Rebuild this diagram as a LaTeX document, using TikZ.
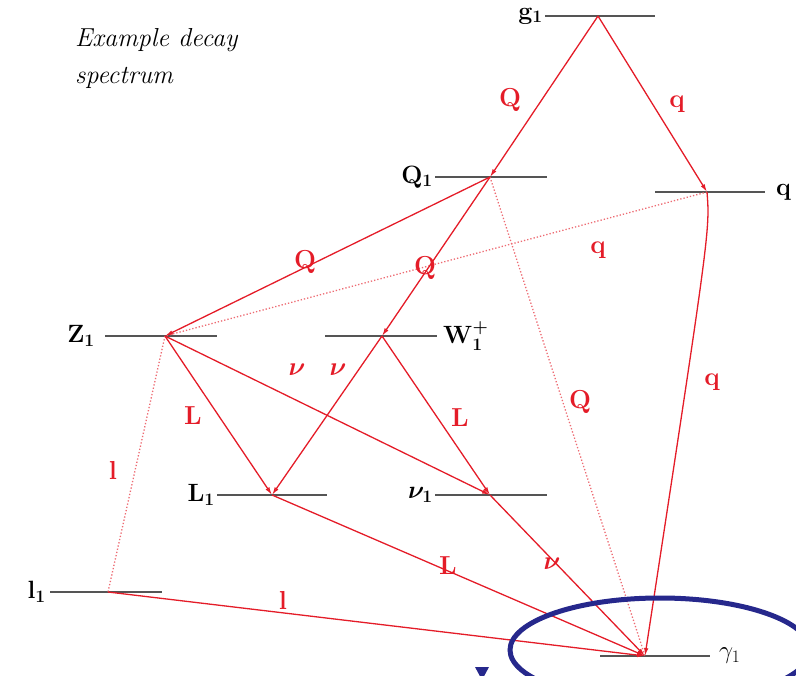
\RequirePackage{fix-cm}
\documentclass[tikz,border=0pt]{standalone}
\usepackage{amsmath}
\usepackage{bm}
\usetikzlibrary{positioning}
\usetikzlibrary{arrows.meta}
\definecolor{decayred}{RGB}{228,28,40}
\definecolor{levelgray}{RGB}{85,85,85}
\definecolor{ringblue}{RGB}{38,40,140}

\begin{document}
\begin{tikzpicture}[
    x=1pt, y=-1pt,
    level/.style={draw=levelgray, line width=2.6pt},
    decay/.style={draw=decayred, line width=1.3pt, -{Latex[open, length=8pt, width=4.5pt]}},
    virtual/.style={draw=decayred!65, line width=1.3pt, dotted},
    lvl/.style={font=\fontsize{25}{27}\selectfont, text=black, inner sep=1pt},
    lbl/.style={font=\fontsize{26}{28}\selectfont\bfseries, text=decayred, inner sep=1pt},
    >=latex
]
    \clip (0,0) rectangle (796,676);

    % vertices of the levels
    \coordinate (g1) at (598,16);
    \coordinate (Q1) at (490,177);
    \coordinate (q)  at (707,192);
    \coordinate (Z1) at (165,336);
    \coordinate (W1) at (382,336);
    \coordinate (L1) at (272,495);
    \coordinate (n1) at (490,495);
    \coordinate (l1) at (108,592);
    \coordinate (c1) at (645,656);

    % levels
    \draw[level] ([xshift=-53pt]g1) -- ([xshift=57pt]g1);
    \draw[level] ([xshift=-55pt]Q1) -- ([xshift=57pt]Q1);
    \draw[level] ([xshift=-52pt]q)  -- ([xshift=58pt]q);
    \draw[level] ([xshift=-60pt]Z1) -- ([xshift=52pt]Z1);
    \draw[level] ([xshift=-57pt]W1) -- ([xshift=55pt]W1);
    \draw[level] ([xshift=-55pt]L1) -- ([xshift=55pt]L1);
    \draw[level] ([xshift=-55pt]n1) -- ([xshift=57pt]n1);
    \draw[level] ([xshift=-58pt]l1) -- ([xshift=54pt]l1);
    \draw[level] ([xshift=-45pt]c1) -- ([xshift=65pt]c1);

    \node[lvl, left=1pt of {[xshift=-53pt]g1}] (g1lab) {$\mathbf{g}_{\mathbf{1}}$};
    \node[lvl, left=1pt of {[xshift=-55pt]Q1}] (Q1lab) {$\mathbf{Q}_{\mathbf{1}}$};
    \node[lvl, right=10pt of {[xshift=58pt]q}] (qlab) {$\mathbf{q}$};
    \node[lvl, left=9pt of {[xshift=-60pt]Z1}] (Z1lab) {$\mathbf{Z}_{\mathbf{1}}$};
    \node[lvl, right=5pt of {[xshift=55pt]W1}] (W1lab) {$\mathbf{W}_{\mathbf{1}}^{\boldsymbol{+}}$};
    \node[lvl, left=1pt of {[xshift=-55pt]L1}] (L1lab) {$\mathbf{L}_{\mathbf{1}}$};
    \node[lvl, left=1pt of {[xshift=-55pt]n1}] (n1lab) {$\bm{\nu}_{\mathbf{1}}$};
    \node[lvl, left=3pt of {[xshift=-58pt]l1}] (l1lab) {$\mathbf{l}_{\mathbf{1}}$};
    \node[lvl, right=8pt of {[xshift=65pt]c1}] (c1lab) {$\gamma_1$};

    % virtual (dotted) decays
    \draw[virtual] (q) -- (Z1);
    \draw[virtual] (Q1) -- (c1);
    \draw[virtual] (Z1) -- (l1);

    % decays
    \draw[decay] (g1) -- (Q1);
    \draw[decay] (g1) -- (q);
    \draw[decay] (Q1) -- (Z1);
    \draw[decay] (Q1) -- (W1);
    \draw[decay] (q) .. controls (710,230) .. (c1);
    \draw[decay] (Z1) -- (L1);
    \draw[decay] (Z1) -- (n1);
    \draw[decay] (W1) -- (L1);
    \draw[decay] (W1) -- (n1);
    \draw[decay] (L1) -- (c1);
    \draw[decay] (n1) -- (c1);
    \draw[decay] (l1) -- (c1);

    % particle labels
    \node[lbl] (tQa) at (510,100) {Q};
    \node[lbl] (tqa) at (677,104) {q};
    \node[lbl] (tQb) at (305,262) {Q};
    \node[lbl] (tQc) at (425,268) {Q};
    \node[lbl] (tqb) at (598,250) {q};
    \node[lbl] (tQd) at (580,402) {Q};
    \node[lbl] (tqc) at (712,382) {q};
    \node[lbl] (tnb) at (297,370) {$\bm{\nu}$};
    \node[lbl] (tnc) at (338,370) {$\bm{\nu}$};
    \node[lbl] (tLa) at (193,416) {L};
    \node[lbl] (tLb) at (460,418) {L};
    \node[lbl] (tla) at (113,470) {l};
    \node[lbl] (tLc) at (448,566) {L};
    \node[lbl] (tnd) at (552,564) {$\bm{\nu}$};
    \node[lbl] (tlb) at (283,600) {l};

    % title
    \node[anchor=north west, align=left, inner sep=0pt,
          font=\fontsize{26}{37}\selectfont\itshape] (title) at (75,28)
          {Example decay\\spectrum};

    % highlight ring
    \draw[ringblue, line width=5pt] (660,650) ellipse [x radius=150, y radius=52];
    \fill[ringblue] (475,667) -- (489,667) -- (482,680) -- cycle;
\end{tikzpicture}
\end{document}
